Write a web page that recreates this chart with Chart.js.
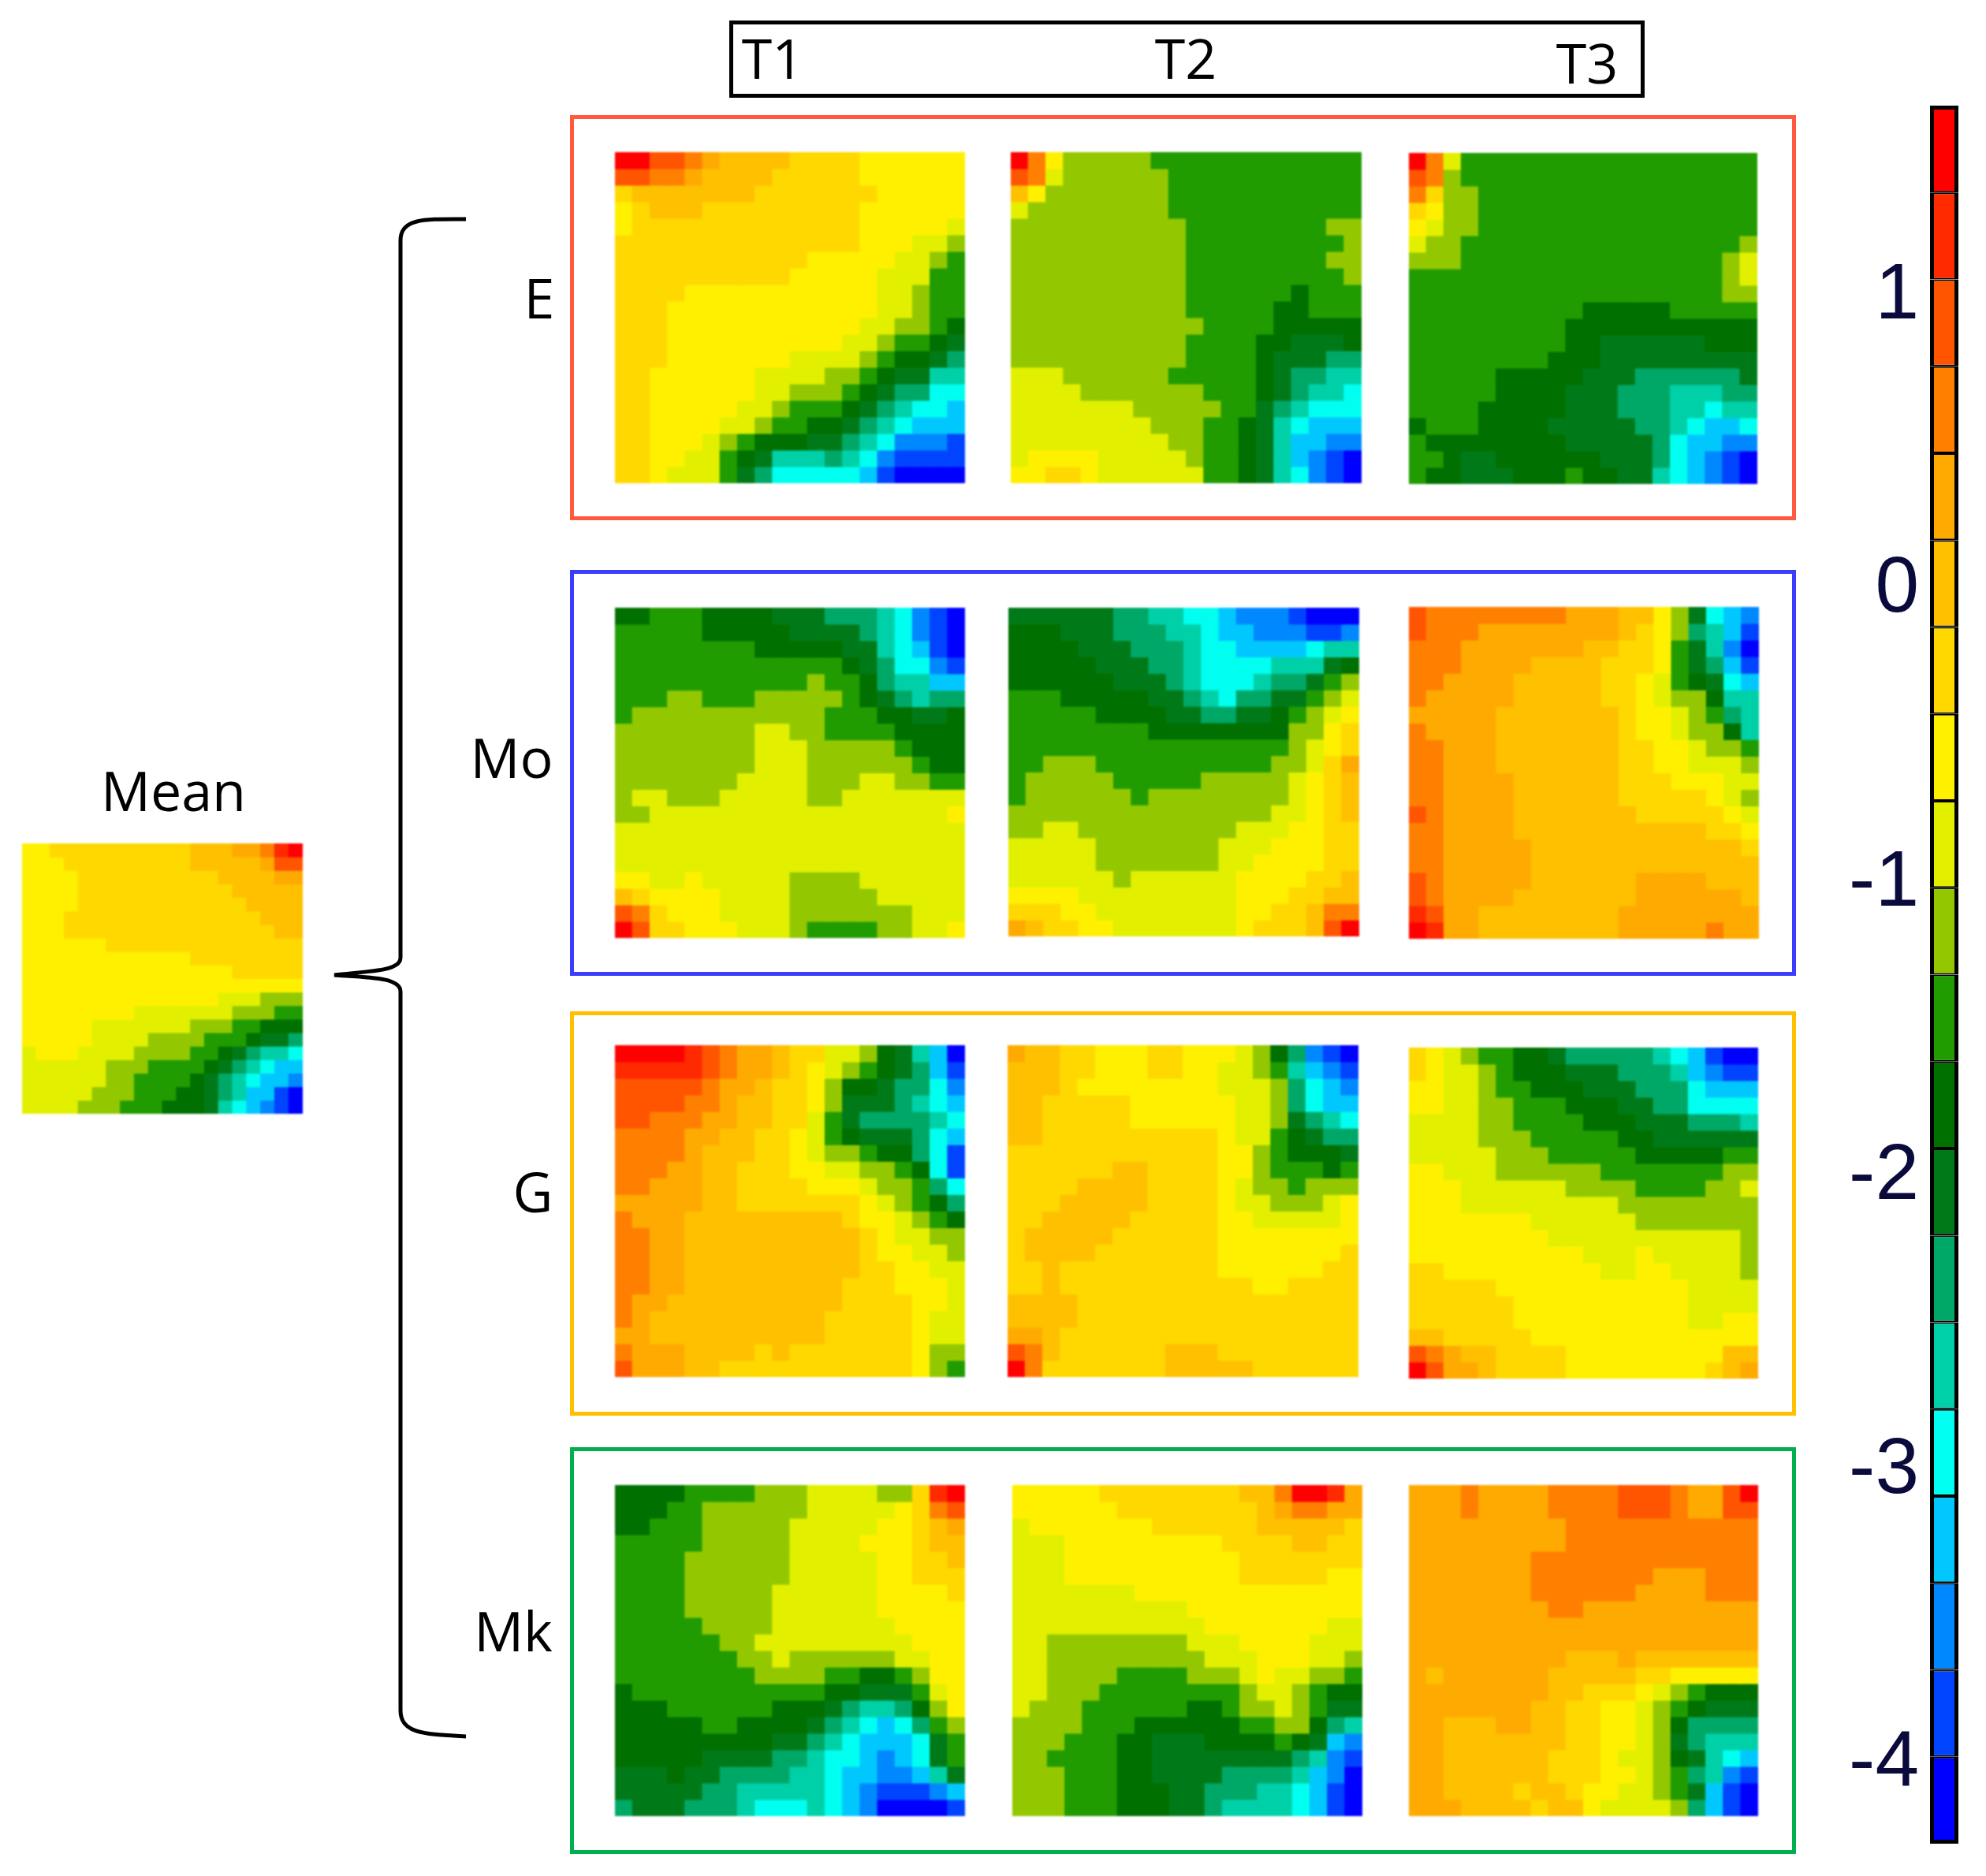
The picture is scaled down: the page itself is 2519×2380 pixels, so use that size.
<!DOCTYPE html>
<html>
<head>
<meta charset="utf-8">
<title>Mean / E Mo G Mk</title>
<script src="https://cdn.jsdelivr.net/npm/chart.js@4/dist/chart.umd.min.js"></script>
<style>
html,body{margin:0;background:#fff}
#page{position:relative;width:2519px;height:2380px;overflow:hidden;background:#fff}
#page canvas{position:absolute}
#page canvas.heat{filter:blur(0.8px)}
.lbl{position:absolute;transform:translate(-50%,-50%);font-family:"Open Sans",sans-serif;font-size:70px;line-height:1;color:#000;white-space:nowrap}
.frame{position:absolute;box-sizing:border-box;border:5px solid #000}
</style>
</head>
<body>
<div id="page"></div>
<script>
// colour levels of the colour bar, top to bottom, letters a..t are used in the grids
const levelLetters='abcdefghijklmnopqrst'.split('');
const levelColors=['#ff0000','#ff2a00','#ff5500','#ff8000','#ffaa00','#ffc000','#ffd800','#fff000','#e2f000','#93c800','#209c00','#007000','#007a18','#00a868','#00d0a8','#00fff0','#00c8ff','#0088ff','#0044ff','#0000ff'];
const levelEdges=[1.65,1.354,1.058,0.762,0.466,0.17,-0.126,-0.422,-0.718,-1.014,-1.31,-1.606,-1.902,-2.198,-2.494,-2.79,-3.086,-3.382,-3.678,-3.974,-4.27];
const barTicks=[1,0,-1,-2,-3,-4];
const columns=['1','2','3','4','5','6','7','8','9','10','11','12','13','14','15','16','17','18','19','20'];

// grids: one string per row, letter + run length
const meanGrid=['h2g10f3e2d b a','h3g9f5e c2','h4g10f4e2','h4g11f5','h4g12f4','h3g14f3','h3g15f2','h6g14','h12g8','h15g5','h20','h14i3j3','h8i7j3k2','h5i7j3k2l3','h5i4j4k3l m2n','i h3i4j4k2l m n o2p','i6j3k4l m n o p q2','i6j2k4l m n o p q2r','i5j3k3l2m n o q2s t','i4j3k3l3m o p q r s t'];

const e1Grid=['a2c2d e f4g4h6','c2d2e f4g5h6','g f7g7h5','h g f3g9h6','h g13h5i','g14h3i2j','g11h5i2j k','g10h5i3k2','g4h11i2j k2','g3h12i2j k2','g3h11i2j2k l','g3h10i2j k2l m','g3h7i4j k l2m n','g2h6i4j2k l m2o2','g2h6i2j3k l m n2p2','g2h5i2j k3l m n o p2q','g2h4i2j k2l2m n o p q3','g2h3i j k l3m2n o p r3s','g2h2i2k l m o3n o p r s4','g2h i3k m n p5q s t4'];
const e2Grid=['a d h j5k12','c d i j6k11','f h j7k11','i j8k11','j10k8j2','j10k9j','j10k8j2','j10k9j','j10k6l k3','j10k5l2k3','j11k4l5','j10k4l2m3l','j10k4l m3n2','i3j6k5l m n2o2','i4j7k3l m n o2p','i7j5k2m n o p3','i8j3k2l m o p q3','i9j2k2l m o q2r2','i h4i5j k2l m o q r s t','h2g2h i6k2l m o p r s t'];
const e3Grid=['a d i k17','c d j k17','d g j2k16','g h j2k16','h i j2k16','i j2k16j','j3k15j i','k18j i','k18j2','k10l5k5','k9l11','k9l2m6l3','k8l3m9','k5l5m3n6m','k5l4m3n3o3n2','k4l5m3n3o2p o2','l k3l4m5n2o p q2p','k l8m5n p q2r2','k2l m2l6m3n p q r s t','k l2m3l3k l2m2o p q r s t'];

const mo1Grid=['l2k3l4m3n3o p r s t','k5l5m4n o p r s t','k8l5m2o p q s t','k13l m n p2r s','k11j k2l n o2q2','k3j2k3j5k l m n o n2','k j11k3l2m2l','j8i2j2k4l4','j8i3j5k l3','j8i3j6k l2','j7i4j3i2j2k2','j i2j3i5j2i7','j2i17h','i20','i20','i20','h2i2h i5j4i6','f g h4i4j5i5','c d g h3i4j7i3','a c g2h3i3j k4j2i2h'];
const mo2Grid=['m6n2o2p2q r3s t3','l3m3n3o2p q2r3s2r','l4m3n3o p2q4p o2','l5m3n2o p4o3m l','l6m3n o p3o n2m k j','k3l5m2n o p n2m2k j i','k5l4m2n2m2l k j i h','k8l8j2h g','k16j i h g','k2j3k10j2i g e','k j5k5j5i h g f','k j6k j8i h g f','j15i2h g f','j2i2j9i3h2g2','i5j7i3h3g2','i5j7i2h4g2','i6j i6h4g2f','h4i9h3g2f2','g3h2i8h2g2f d2','e f g2h2i7h g3f c a'];
const mo3Grid=['c d8e3f2h j m p q r','c d3e8f g h j n o q s','d3e7f2g2h k m o r t','d3e4f4g3h k m n q s','d2e4f5g2h i k l m p q','d e5f5g2h i j2l o2','e5f7g h2i j k n o','d e4f7g h2i j2l o','d2e3f7g2h2i j2k','d2e3f7g2h2i3j','d2e4f6g3h3i2','d2e4f6g5h i j','c d e4f7g5h i','d2e4f11g2h','d2e5f12g','d2e5f13','c d e5f6e4f3','c d e4f7e6f','b c e2f8e8','a b e2f8e5d e2'];

const g1Grid=['a4b c d e2f g2i2j l m o q t','b5c d e2f g h i j k l m n q s','c5d e2f g2h j l2m n2p r','c4d2e f2g2h j m3n o p q','c2d3e2f2g2i k m n4o p','d4e2f2g2h i k l m3n p q','d4e f3g2h i j2k l2n p s','d3e2f2g3h2i2j2k l p s','d2e3f2g4h3i j2k n p','e5f2g7h i j k l n','d e3f9g h2i j k l','d2e2f10g h i2j2','d2e2f10g h2i2j','d2e2f10g2h2i2','d2e2f9g3h3i','d e2f10g4h2i','d e f10g5h i2','e2f10g5h i2','d e3f4g f g7h j2','c e3f2g11h j k'];
const g2Grid=['e f2g2h3g2h3i j l n r s t','f3g2h3g2h2i2j k o q r s','f3g h8i3j n p q r','f2g5h6i2j n p q2','f2g5h6i2j m n o p','f2g10h i2k l m n2','g12h2j k l3m','g6f2g4h2j k3l k','g4f4g4h i j2k j3','g3f5g4h i2j3i h','g2f5g5h2i5h','g f5g6h8','g f4g7h7g','g2f g9h6g2','g2f g11h2g4','f4g16','f4g16','e2f g17','c d f g6f3g8','a d g7f5g6'];
const g3Grid=['g h i j k2l2m n5o p q s t2','g h i2j k l3m3n3o q r s2','h2i2j k2l3m3n3p q3','h2i2j2k3l3m2n2p4','i4j2k4l3m3n3o','i4j3k5l2m6','i5j3k5l5k2','h2i3j6k7j2','h3i6j4k4j2i','h3i9j8','h7i6j7','h8i11j','h10i3h i5j','g2h9i2h2i4j','g5h11i4','g6h10i4','g6h10i2h2','f2g5h13','c d e f2g4h9f2','a c e2f g4h8g f e'];

const mk1Grid=['l4k4j3i4j2g b a','l3k2j6i5h g d c','l2k3j5i5h2g f e','k5j5i4h3g f2','k4j6i5h2g2f','k4j6i5h2g3','k4j5i6h4g','k4j5i6h5','k5j4i7h4','k6j2i9h3','k7j2i j6i2h2','k8j4k2l2k j h2','l k11l2m3k i h','l3k6l3m n o2n l j h','l5k2l4m n o p q p n k j','l9m2n o p q3p m k','l5m4n2o p2q r q p m k','m3l m2n4o2p q2r2q o m','m5n2o5p q r s3r q','n m3n3o p3o p q r t4s'];
const mk2Grid=['h5g8f2d a2b e','h6g8f e d2e2','i h7g6f5g','i3h9g4f2g2','i3h10g7','i3h10g5h2','i7h13','i10h10','i11h7i2','i2j8i3h4i3','i2j9i3h3i2j','i2j4k4j3i h i2j2k','i2j3k8j i2j k l2','i j3k6l2k j2i j k m2','j4k3l6k2j2l n o','j3k3l2m3l4k l m q r','j2k4l2m8n o r s','j3k3l2m4n4o q r t','j3k3l3m2n3o2p q s t','j3k3l3m2n o4p q s t'];
const mk3Grid=['e3d e4d4c3d e2c a','e3d e4d4c3d e2c2','e9d11','e9d11','e7d13','e7d7e3d3','e7d6e4d3','e8d2e10','e20','e20','e9f3e f7','e f e6f5g2h5','e8f2g3h i j k l3','e7f2g2h2i j k l m3','e2f3e2f2g2h2i j l n4','e2f7g2h2i j m n o3','e2f6g3h i2j l m o p q','e2f6g3h2i j k n o r s','e2f4g f2g h2i2j k m q s t','e3f4g f2h i4j n q s t'];

// full page positions of the heat maps: grid, left, top, right, bottom
const panels=[
  [meanGrid,28,1070,384,1413],
  [e1Grid,780,193,1224,613],[e2Grid,1282,193,1727,613],[e3Grid,1787,194,2229,614],
  [mo1Grid,780,771,1224,1190],[mo2Grid,1279,771,1724,1188],[mo3Grid,1787,770,2231,1191],
  [g1Grid,780,1326,1224,1747],[g2Grid,1278,1326,1723,1747],[g3Grid,1787,1329,2230,1749],
  [mk1Grid,780,1884,1224,2304],[mk2Grid,1284,1884,1728,2304],[mk3Grid,1787,1884,2230,2304]
];

const page=document.getElementById('page');

function decodeRow(s){
  const out=[];
  for(const m of s.matchAll(/([a-t])(\d*)/g)){
    const n=m[2]?parseInt(m[2]):1;
    for(let i=0;i<n;i++)out.push(m[1]);
  }
  if(out.length!==20)console.warn('row length '+out.length+': '+s);
  return out;
}

function addCanvas(left,top,w,h){
  const c=document.createElement('canvas');
  c.width=w;c.height=h;
  c.style.left=left+'px';c.style.top=top+'px';
  c.style.width=w+'px';c.style.height=h+'px';
  page.appendChild(c);
  return c;
}

function heatmap(grid,l,t,r,b){
  const rows=grid.map(decodeRow);
  const cv=addCanvas(l,t,r-l,b-t);
  cv.className='heat';
  new Chart(cv,{
    type:'bar',
    data:{
      labels:columns,
      datasets:rows.map(row=>({
        data:row.map(()=>1),
        backgroundColor:row.map(c=>levelColors[levelLetters.indexOf(c)]),
        borderWidth:0,
        inflateAmount:0.5,
        barPercentage:1,
        categoryPercentage:1
      }))
    },
    options:{
      responsive:false,animation:false,events:[],
      layout:{padding:0},
      plugins:{legend:{display:false},tooltip:{enabled:false}},
      scales:{
        x:{display:false,stacked:true},
        y:{display:false,stacked:true,reverse:true,min:0,max:20}
      }
    }
  });
}
panels.forEach(p=>heatmap(...p));

// colour bar, one floating bar per level on a real value axis
new Chart(addCanvas(2340,0,144,2380),{
  type:'bar',
  data:{
    labels:['bar'],
    datasets:levelColors.map((col,i)=>({
      data:[[levelEdges[i+1],levelEdges[i]]],
      backgroundColor:col,
      borderColor:'#000',
      borderWidth:{left:5,right:5,top:i==0?5:2,bottom:i==19?5:2},
      borderSkipped:false,
      inflateAmount:0,
      barPercentage:1,
      categoryPercentage:1,
      grouped:false
    }))
  },
  options:{
    responsive:false,animation:false,events:[],
    layout:{padding:{top:134,bottom:41}},
    plugins:{legend:{display:false},tooltip:{enabled:false}},
    scales:{
      x:{display:false},
      y:{
        min:-4.27,max:1.65,
        afterBuildTicks:s=>{s.ticks=barTicks.map(v=>({value:v}))},
        // keep the axis from reserving room for the outer labels
        afterFit:s=>{s.width=108;s.paddingTop=0;s.paddingBottom=0},
        grid:{display:false,drawTicks:false},
        border:{display:false},
        ticks:{
          autoSkip:false,padding:14,color:'#0a0a3c',
          font:{family:'"Liberation Sans"',size:100},
          callback:v=>String(v)
        }
      }
    }
  }
});

// frames and text on top
const frames=[[925,26,2086,124,'#000'],[723,146,2278,660,'#ff5a40'],[723,723,2278,1238,'#3c3cff'],[723,1283,2278,1796,'#ffc000'],[723,1836,2278,2352,'#00b050']];
frames.forEach(f=>{
  const d=document.createElement('div');
  d.className='frame';
  d.style.cssText='left:'+f[0]+'px;top:'+f[1]+'px;width:'+(f[2]-f[0])+'px;height:'+(f[3]-f[1])+'px;border-color:'+f[4];
  page.appendChild(d);
});
const labels=[['T1',980,73],['T2',1504,73],['T3',2013,79],['E',684,377],['Mo',649,960],['G',676,1511],['Mk',651,2068],['Mean',220,1002]];
labels.forEach(t=>{
  const d=document.createElement('div');
  d.className='lbl';
  d.textContent=t[0];
  d.style.left=t[1]+'px';d.style.top=t[2]+'px';
  page.appendChild(d);
});

// brace between the mean map and the four rows
page.insertAdjacentHTML('beforeend','<svg width="2519" height="2380" style="position:absolute;left:0;top:0;pointer-events:none"><path d="M591 278 C540 278 508 276 508 305 L508 1215 C508 1232 470 1232 424 1237 C470 1240 508 1240 508 1258 L508 2170 C508 2200 540 2200 591 2203" fill="none" stroke="#000" stroke-width="5"/></svg>');
</script>
</body>
</html>
